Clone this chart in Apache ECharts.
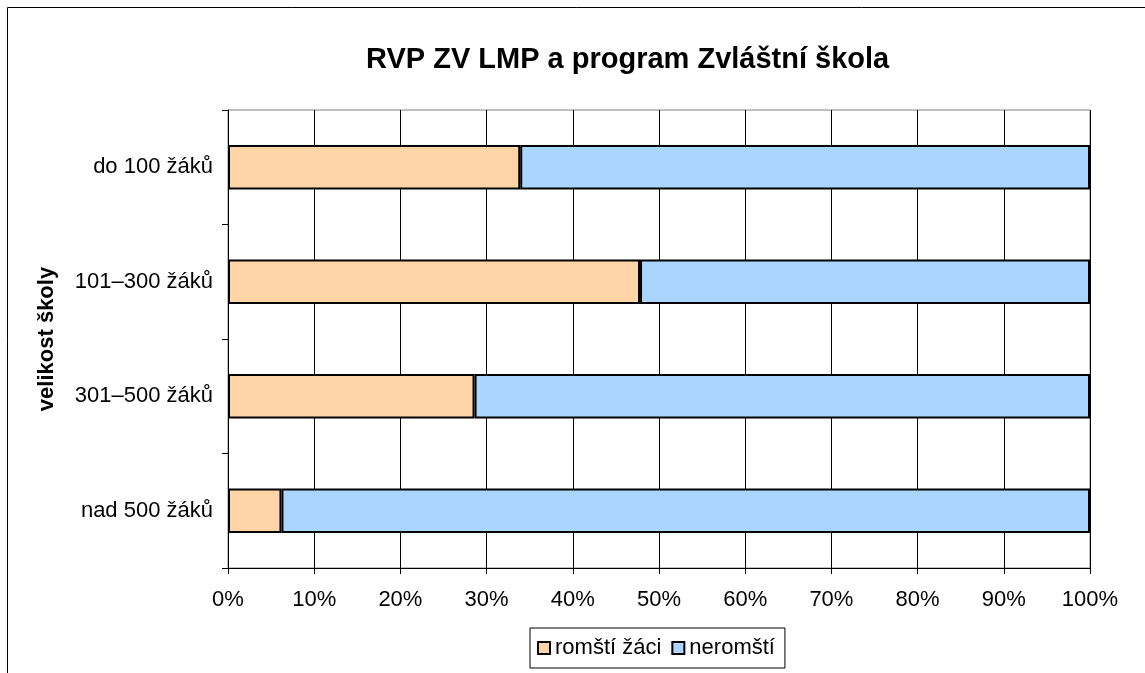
<!DOCTYPE html>
<html>
<head>
<meta charset="utf-8">
<script src="https://cdn.jsdelivr.net/npm/echarts@6/dist/echarts.min.js"></script>
<style>
html, body { margin: 0; padding: 0; background: #fff; }
#main { width: 1145px; height: 673px; }
</style>
</head>
<body>
<div id="main"></div>
<script>
var categories = ['do 100 žáků', '101–300 žáků', '301–500 žáků', 'nad 500 žáků'];
var romsti = [33.9, 47.8, 28.6, 6.2];
var neromsti = [66.1, 52.2, 71.4, 93.8];
var seriesNames = ['romští žáci', 'neromští'];

var font = 'Liberation Sans, Arial, sans-serif';
var myChart = echarts.init(document.getElementById('main'));

var option = {
    backgroundColor: '#fff',
    animation: false,
    title: {
        text: 'RVP ZV LMP a program Zvláštní škola',
        left: 361,
        top: 40,
        textStyle: {
            fontFamily: font,
            fontSize: 29,
            fontWeight: 'bold',
            color: '#000'
        }
    },
    graphic: [{
        type: 'rect',
        shape: { x: 7.5, y: 7.5, width: 1150, height: 700 },
        style: { fill: 'none', stroke: '#000', lineWidth: 1 },
        silent: true
    }],
    legend: {
        left: 530,
        top: 628,
        itemWidth: 12,
        itemHeight: 12,
        itemGap: 10,
        icon: 'rect',
        padding: [9, 10, 9, 7],
        borderColor: '#000',
        borderWidth: 1,
        data: seriesNames,
        textStyle: {
            fontFamily: font,
            fontSize: 22,
            color: '#000'
        }
    },
    grid: {
        left: 228,
        right: 55,
        top: 110,
        bottom: 105,
        show: true,
        borderColor: '#808080',
        borderWidth: 1
    },
    xAxis: {
        type: 'value',
        min: 0,
        max: 100,
        interval: 10,
        axisLine: { show: true, lineStyle: { color: '#000', width: 1 } },
        axisTick: { show: true, length: 6, lineStyle: { color: '#000' } },
        splitLine: { show: true, lineStyle: { color: '#000', width: 1 } },
        axisLabel: {
            formatter: '{value}%',
            fontFamily: font,
            fontSize: 22,
            color: '#000',
            margin: 21
        }
    },
    yAxis: {
        type: 'category',
        inverse: true,
        data: categories,
        name: 'velikost školy',
        nameLocation: 'middle',
        nameRotate: 90,
        nameGap: 170,
        nameTextStyle: {
            fontFamily: font,
            fontSize: 22,
            fontWeight: 'bold',
            color: '#000'
        },
        axisLine: { show: true, lineStyle: { color: '#000', width: 1 } },
        axisTick: { show: true, length: 6, lineStyle: { color: '#000' } },
        axisLabel: {
            fontFamily: font,
            fontSize: 22,
            color: '#000',
            margin: 15
        }
    },
    series: [{
        name: seriesNames[0],
        type: 'bar',
        stack: 'total',
        barWidth: '39%',
        data: romsti,
        itemStyle: { color: '#FFD5A8', borderColor: '#000', borderWidth: 2 }
    }, {
        name: seriesNames[1],
        type: 'bar',
        stack: 'total',
        barWidth: '39%',
        data: neromsti,
        itemStyle: { color: '#A9D5FF', borderColor: '#000', borderWidth: 2 }
    }]
};

myChart.setOption(option);
</script>
</body>
</html>
